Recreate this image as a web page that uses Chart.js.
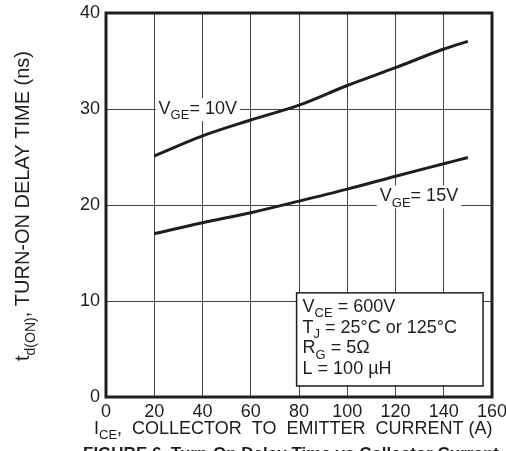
<!DOCTYPE html>
<html>
<head>
<meta charset="utf-8">
<script src="https://cdn.jsdelivr.net/npm/chart.js@4.4.0/dist/chart.umd.min.js"></script>
<style>
  html, body { margin: 0; padding: 0; background: #fff; }
  #wrap { width: 506px; height: 451px; position: relative; }
</style>
</head>
<body>
<div id="wrap"><canvas id="chart"></canvas></div>
<script>
// values
const currents = [20, 40, 60, 80, 100, 120, 140, 150];
const vge10 = [25.1, 27.2, 28.85, 30.4, 32.45, 34.3, 36.25, 37.05];
const vge15 = [17.0, 18.15, 19.2, 20.4, 21.65, 23.0, 24.3, 24.95];
const xTicks = [0, 20, 40, 60, 80, 100, 120, 140, 160];
const yTicks = [0, 10, 20, 30, 40];

const FONT = '"Liberation Sans", Arial, Helvetica, sans-serif';
const INK = '#1e1e1e';

// draws text runs, 's' runs are subscripts
function richText(ctx, runs, x, y, size) {
  let cx = x;
  for (const [txt, kind] of runs) {
    const sub = kind === 's';
    ctx.font = (sub ? Math.round(size * 0.72) : size) + 'px ' + FONT;
    ctx.fillText(txt, cx, sub ? y + size * 0.3 : y);
    cx += ctx.measureText(txt).width;
  }
  return cx - x;
}
function richWidth(ctx, runs, size) {
  let w = 0;
  for (const [txt, kind] of runs) {
    ctx.font = (kind === 's' ? Math.round(size * 0.72) : size) + 'px ' + FONT;
    w += ctx.measureText(txt).width;
  }
  return w;
}

function noPad(s) {
  s.paddingLeft = 0; s.paddingRight = 0; s.paddingTop = 0; s.paddingBottom = 0;
}

const extras = {
  id: 'extras',
  beforeDatasetsDraw(chart) {
    const ctx = chart.ctx, xs = chart.scales.x, ys = chart.scales.y;
    ctx.save();
    ctx.fillStyle = INK;
    ctx.textBaseline = 'alphabetic';
    // curve labels on white patches
    const labels = [
      { runs: [['V', 'n'], ['GE', 's'], ['= 10V', 'n']], x: 21.8, y: 30 },
      { runs: [['V', 'n'], ['GE', 's'], ['= 15V', 'n']], x: 113.5, y: 20.9 }
    ];
    for (const l of labels) {
      const px = xs.getPixelForValue(l.x), py = ys.getPixelForValue(l.y);
      const w = richWidth(ctx, l.runs, 18);
      ctx.fillStyle = '#fff';
      ctx.fillRect(px - 3, py - 11, w + 6, 23);
      ctx.fillStyle = INK;
      richText(ctx, l.runs, px, py + 5, 18);
    }
    ctx.restore();
  },
  afterDraw(chart) {
    const ctx = chart.ctx, a = chart.chartArea, xs = chart.scales.x, ys = chart.scales.y;
    ctx.save();
    // frame
    ctx.strokeStyle = INK;
    ctx.lineWidth = 3;
    ctx.strokeRect(a.left, a.top, a.right - a.left, a.bottom - a.top);

    // conditions box
    const bx = xs.getPixelForValue(79), by = ys.getPixelForValue(10.85);
    const bw = xs.getPixelForValue(156.3) - bx, bh = ys.getPixelForValue(1.15) - by;
    ctx.fillStyle = '#fff';
    ctx.fillRect(bx, by, bw, bh);
    ctx.lineWidth = 1.5;
    ctx.strokeRect(bx, by, bw, bh);
    ctx.fillStyle = INK;
    const lines = [
      [['V', 'n'], ['CE', 's'], [' = 600V', 'n']],
      [['T', 'n'], ['J', 's'], [' = 25°C or 125°C', 'n']],
      [['R', 'n'], ['G', 's'], [' = 5Ω', 'n']],
      [['L = 100 µH', 'n']]
    ];
    lines.forEach((ln, i) => richText(ctx, ln, bx + 6, by + 19 + i * 20.7, 18));

    // x axis title
    richText(ctx, [['I', 'n'], ['CE', 's'], [',  COLLECTOR  TO  EMITTER  CURRENT (A)', 'n']], 94, 434, 18);

    // y axis title, rotated
    ctx.translate(29, 206);
    ctx.rotate(-Math.PI / 2);
    const yRuns = [['t', 'n'], ['d(ON)', 's'], [', TURN-ON DELAY TIME (ns)', 'n']];
    const yw = richWidth(ctx, yRuns, 20);
    richText(ctx, yRuns, -yw / 2, 0, 20);
    ctx.setTransform(1, 0, 0, 1, 0, 0);

    // caption, cut off by the bottom edge
    ctx.font = 'bold 17px ' + FONT;
    ctx.fillText('FIGURE 6. Turn-On Delay Time vs Collector Current', 83, 459);
    ctx.restore();
  }
};

new Chart(document.getElementById('chart').getContext('2d'), {
  type: 'line',
  data: {
    labels: currents,
    datasets: [{
      label: 'VGE = 10V',
      data: currents.map((c, i) => ({ x: c, y: vge10[i] })),
      borderColor: INK,
      borderWidth: 3,
      pointRadius: 0,
      cubicInterpolationMode: 'monotone'
    }, {
      label: 'VGE = 15V',
      data: currents.map((c, i) => ({ x: c, y: vge15[i] })),
      borderColor: INK,
      borderWidth: 3,
      pointRadius: 0,
      cubicInterpolationMode: 'monotone'
    }]
  },
  options: {
    responsive: true,
    maintainAspectRatio: false,
    animation: false,
    layout: { padding: { top: 13, right: 14, left: 0, bottom: 0 } },
    plugins: { legend: { display: false }, tooltip: { enabled: false } },
    scales: {
      x: {
        type: 'linear',
        min: 0, max: 160,
        afterBuildTicks: s => { s.ticks = xTicks.map(v => ({ value: v })); },
        afterFit: s => { s.height = 54; noPad(s); },
        grid: { color: '#444', lineWidth: 1, drawTicks: false },
        border: { display: false },
        ticks: { color: INK, padding: 4, maxRotation: 0, font: { family: FONT, size: 18 } }
      },
      y: {
        min: 0, max: 40,
        afterBuildTicks: s => { s.ticks = yTicks.map(v => ({ value: v })); },
        afterFit: s => { s.width = 106; noPad(s); },
        grid: { color: '#444', lineWidth: 1, drawTicks: false },
        border: { display: false },
        ticks: { color: INK, padding: 6, font: { family: FONT, size: 18 } }
      }
    }
  },
  plugins: [extras]
});
</script>
</body>
</html>
